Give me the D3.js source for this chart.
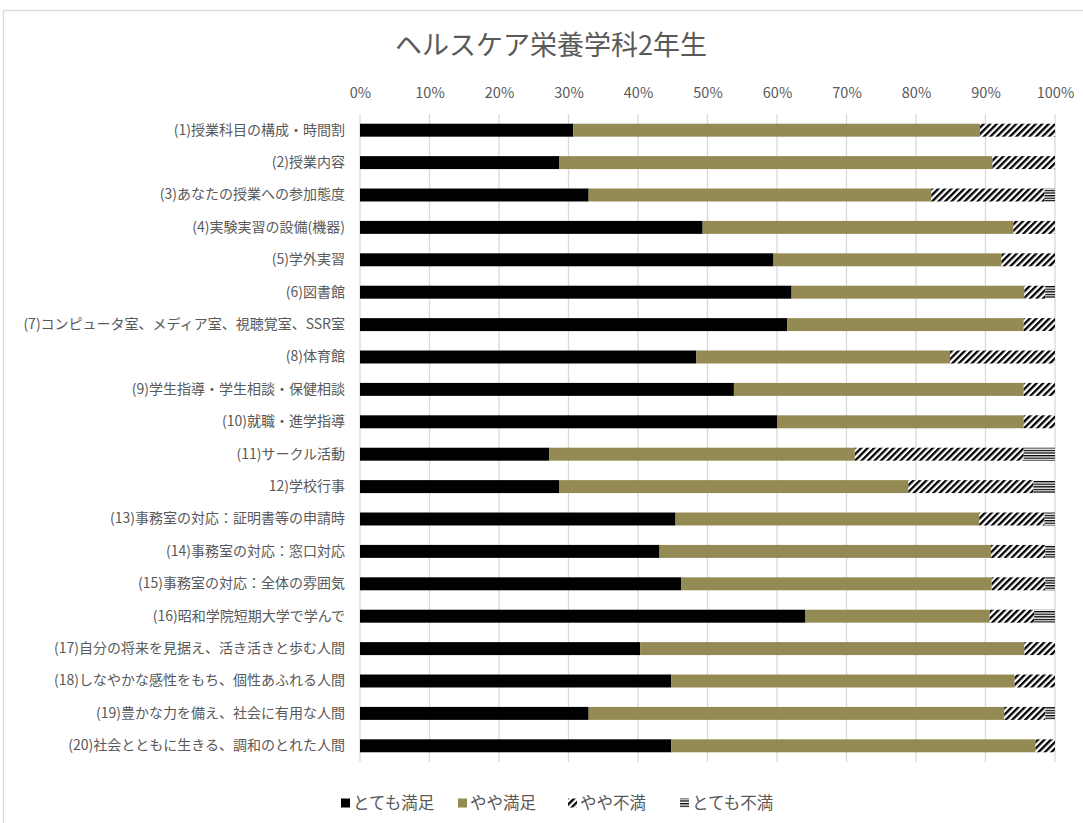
<!DOCTYPE html>
<html><head><meta charset="utf-8">
<script src="https://cdn.jsdelivr.net/npm/d3@7"></script>
<style>
html,body{margin:0;padding:0;background:#fff;}
text{font-family:"Noto Sans CJK JP","Noto Sans",sans-serif;}
</style></head>
<body>
<svg id="chart" width="1083" height="823"></svg>
<script>
const title = "ヘルスケア栄養学科2年生";
const categories = [
  "(1)授業科目の構成・時間割",
  "(2)授業内容",
  "(3)あなたの授業への参加態度",
  "(4)実験実習の設備(機器)",
  "(5)学外実習",
  "(6)図書館",
  "(7)コンピュータ室、メディア室、視聴覚室、SSR室",
  "(8)体育館",
  "(9)学生指導・学生相談・保健相談",
  "(10)就職・進学指導",
  "(11)サークル活動",
  "12)学校行事",
  "(13)事務室の対応：証明書等の申請時",
  "(14)事務室の対応：窓口対応",
  "(15)事務室の対応：全体の雰囲気",
  "(16)昭和学院短期大学で学んで",
  "(17)自分の将来を見据え、活き活きと歩む人間",
  "(18)しなやかな感性をもち、個性あふれる人間",
  "(19)豊かな力を備え、社会に有用な人間",
  "(20)社会とともに生きる、調和のとれた人間"
];
const seriesNames = ["とても満足","やや満足","やや不満","とても不満"];
const veryS   = [30.7,28.7,32.9,49.3,59.5,62.1,61.5,48.4,53.8,60.0,27.2,28.7,45.4,43.1,46.2,64.1,40.3,44.8,32.9,44.8];
const someS   = [58.5,62.3,49.3,44.7,32.8,33.5,34.0,36.5,41.7,35.5,44.0,50.2,43.7,47.7,44.7,26.5,55.3,49.4,59.8,52.4];
const someD   = [10.8, 9.0,16.3, 6.0, 7.7, 3.0, 4.5,15.1, 4.5, 4.5,24.3,18.0, 9.4, 7.8, 7.7, 6.4, 4.4, 5.8, 5.9, 2.8];
const veryD   = [ 0.0, 0.0, 1.5, 0.0, 0.0, 1.4, 0.0, 0.0, 0.0, 0.0, 4.5, 3.1, 1.5, 1.4, 1.4, 3.0, 0.0, 0.0, 1.4, 0.0];
const tickValues = [0,10,20,30,40,50,60,70,80,90,100];

const svg = d3.select("#chart");
const defs = svg.append("defs");
const diag = defs.append("pattern").attr("id","pDiag").attr("patternUnits","userSpaceOnUse")
  .attr("width",4.6).attr("height",4.6).attr("patternTransform","rotate(45)");
diag.append("rect").attr("width",4.6).attr("height",4.6).attr("fill","#fff");
diag.append("rect").attr("width",2.3).attr("height",4.6).attr("fill","#000");
const horiz = defs.append("pattern").attr("id","pHoriz").attr("patternUnits","userSpaceOnUse")
  .attr("width",4).attr("height",2.6);
horiz.append("rect").attr("width",4).attr("height",2.6).attr("fill","#fff");
horiz.append("rect").attr("width",4).attr("height",1.3).attr("fill","#000");

const fills = ["#000000","#948a54","url(#pDiag)","url(#pHoriz)"];

// frame
svg.append("rect").attr("x",3.5).attr("y",10.5).attr("width",1100).attr("height",830)
  .attr("fill","none").attr("stroke","#d9d9d9").attr("stroke-width",1.3);

svg.append("text").attr("x",551).attr("y",55).attr("text-anchor","middle")
  .attr("font-size",27).attr("fill","#595959").text(title);

const x = d3.scaleLinear().domain([0,100]).range([360,1055]);
const y = d3.scaleBand().domain(categories).range([114,762]).paddingInner(0.6).paddingOuter(0.3);

// gridlines
svg.append("g").selectAll("line").data(tickValues).join("line")
  .attr("x1",d=>x(d)).attr("x2",d=>x(d)).attr("y1",114).attr("y2",762)
  .attr("stroke","#d9d9d9").attr("stroke-width",1.3);

// top axis
const xAxis = d3.axisTop(x).tickValues(tickValues).tickFormat(d=>d+"%").tickSize(0).tickPadding(0);
const gx = svg.append("g").attr("transform","translate(0,98)").call(xAxis);
gx.select(".domain").remove();
gx.selectAll("text").attr("font-size",14.5).attr("fill","#595959")
  .style("font-family","'Noto Sans CJK JP','Noto Sans',sans-serif");

// left axis
const yAxis = d3.axisLeft(y).tickSize(0).tickPadding(0);
const gy = svg.append("g").attr("transform","translate(345,0)").call(yAxis);
gy.select(".domain").remove();
gy.selectAll("text").attr("font-size",14).attr("fill","#595959")
  .style("font-family","'Noto Sans CJK JP','Noto Sans',sans-serif");

const rows = categories.map((c,i)=>({cat:c,[seriesNames[0]]:veryS[i],[seriesNames[1]]:someS[i],[seriesNames[2]]:someD[i],[seriesNames[3]]:veryD[i]}));
const stack = d3.stack().keys(seriesNames)(rows);

svg.append("g").selectAll("g").data(stack).join("g")
  .attr("fill",(d,i)=>fills[i])
  .selectAll("rect").data(d=>d).join("rect")
  .attr("x",d=>x(d[0])).attr("width",d=>Math.max(0,x(d[1])-x(d[0])))
  .attr("y",d=>y(d.data.cat)).attr("height",y.bandwidth());

// legend
const legendX = [341,458,568,680];
const lg = svg.append("g").selectAll("g").data(seriesNames).join("g")
  .attr("transform",(d,i)=>`translate(${legendX[i]},803)`);
lg.append("rect").attr("x",0).attr("y",-4.5).attr("width",9).attr("height",9)
  .attr("fill",(d,i)=>fills[i]);
lg.append("text").attr("x",12).attr("y",6).attr("font-size",16.5).attr("fill","#595959").text(d=>d);
</script>
</body></html>
